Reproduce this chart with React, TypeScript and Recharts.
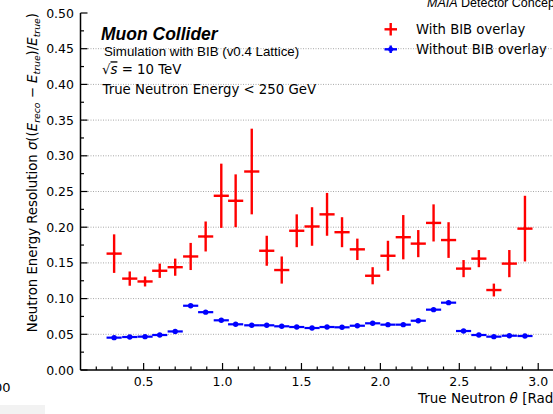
import React from "react";
import { ScatterChart, Scatter, XAxis, YAxis, ErrorBar, ReferenceLine } from "recharts";

// bin centres in theta [rad]
const thetaCenters = [
  0.313, 0.412, 0.509, 0.602, 0.7, 0.798, 0.893, 0.992, 1.083, 1.185, 1.28, 1.375, 1.47, 1.567,
  1.662, 1.757, 1.854, 1.951, 2.048, 2.145, 2.24, 2.337, 2.432, 2.527, 2.624, 2.719, 2.817, 2.916,
];
const thetaHalfWidth = 0.048;

const withBib = [
  0.163, 0.128, 0.124, 0.139, 0.144, 0.159, 0.187, 0.244, 0.237, 0.278, 0.167, 0.14, 0.195, 0.201,
  0.218, 0.193, 0.169, 0.132, 0.16, 0.186, 0.177, 0.206, 0.182, 0.142, 0.156, 0.112, 0.149, 0.198,
];
const withBibErr = [
  0.027, 0.01, 0.007, 0.01, 0.012, 0.019, 0.021, 0.045, 0.037, 0.06, 0.021, 0.019, 0.023, 0.027,
  0.03, 0.021, 0.015, 0.012, 0.021, 0.031, 0.019, 0.026, 0.025, 0.012, 0.012, 0.009, 0.019, 0.046,
];
const withoutBib = [
  0.0453, 0.0462, 0.0467, 0.049, 0.054, 0.09, 0.081, 0.0696, 0.064, 0.0626, 0.0626, 0.0612, 0.0602, 0.0588,
  0.0602, 0.0598, 0.062, 0.0654, 0.0635, 0.0635, 0.069, 0.0845, 0.0943, 0.0546, 0.049, 0.0467, 0.048, 0.0476,
];
const withoutBibErr = [
  0.0015, 0.0015, 0.0015, 0.0015, 0.0015, 0.002, 0.0018, 0.0015, 0.0015, 0.0015, 0.0015, 0.0015, 0.0015, 0.0015,
  0.0015, 0.0015, 0.0015, 0.0015, 0.0015, 0.0015, 0.0015, 0.002, 0.002, 0.0015, 0.0015, 0.0015, 0.0015, 0.0015,
];

const xMajorTicks = [0.5, 1.0, 1.5, 2.0, 2.5, 3.0];
const xTickLabels = ["0.5", "1.0", "1.5", "2.0", "2.5", "3.0"];
const xMinorTicks = [
  0.2, 0.3, 0.4, 0.6, 0.7, 0.8, 0.9, 1.1, 1.2, 1.3, 1.4, 1.6, 1.7, 1.8, 1.9, 2.1, 2.2, 2.3, 2.4,
  2.6, 2.7, 2.8, 2.9,
];
const yMajorTicks = [0, 0.05, 0.1, 0.15, 0.2, 0.25, 0.3, 0.35, 0.4, 0.45, 0.5];
const yTickLabels = ["0.00", "0.05", "0.10", "0.15", "0.20", "0.25", "0.30", "0.35", "0.40", "0.45", "0.50"];
const yMinorTicks = [0.025, 0.075, 0.125, 0.175, 0.225, 0.275, 0.325, 0.375, 0.425, 0.475];
const gridLevels = [0.05, 0.1, 0.15, 0.2, 0.25, 0.3, 0.35, 0.4, 0.45];

const xAllTicks = [...xMajorTicks, ...xMinorTicks].sort((a, b) => a - b);
const yAllTicks = [...yMajorTicks, ...yMinorTicks].sort((a, b) => a - b);

const withRows = thetaCenters.map((t, i) => ({ theta: t, res: withBib[i], yErr: withBibErr[i], xErr: thetaHalfWidth }));
const withoutRows = thetaCenters.map((t, i) => ({ theta: t, res: withoutBib[i], yErr: withoutBibErr[i], xErr: thetaHalfWidth }));

const RED = "#ff0000";
const BLUE = "#0000ff";
const DJV = "DejaVu Sans";
const ARIAL = "Liberation Sans";
const MAJOR = 7;
const MINOR = 3.5;

const majorIndex = (v: number, majors: number[]) => majors.findIndex((m) => Math.abs(m - v) < 1e-6);

function BottomTick(props: any) {
  const { x, y, payload } = props;
  const i = majorIndex(payload.value, xMajorTicks);
  const len = i >= 0 ? MAJOR : MINOR;
  return (
    <g>
      <line x1={x} x2={x} y1={y} y2={y - len} stroke="#000" strokeWidth={1.2} />
      {i >= 0 && (
        <text x={x} y={y + 16} textAnchor="middle" fontSize={12.5} fontFamily={DJV} fill="#000">
          {xTickLabels[i]}
        </text>
      )}
    </g>
  );
}

function TopTick(props: any) {
  const { x, y, payload } = props;
  const len = majorIndex(payload.value, xMajorTicks) >= 0 ? MAJOR : MINOR;
  return <line x1={x} x2={x} y1={y} y2={y + len} stroke="#000" strokeWidth={1.2} />;
}

function LeftTick(props: any) {
  const { x, y, payload } = props;
  const i = majorIndex(payload.value, yMajorTicks);
  const len = i >= 0 ? MAJOR : MINOR;
  return (
    <g>
      <line x1={x} x2={x + len} y1={y} y2={y} stroke="#000" strokeWidth={1.2} />
      {i >= 0 && (
        <text x={x - 6.5} y={y + 4.5} textAnchor="end" fontSize={12.5} fontFamily={DJV} fill="#000">
          {yTickLabels[i]}
        </text>
      )}
    </g>
  );
}

function RightTick(props: any) {
  const { x, y, payload } = props;
  const len = majorIndex(payload.value, yMajorTicks) >= 0 ? MAJOR : MINOR;
  return <line x1={x} x2={x - len} y1={y} y2={y} stroke="#000" strokeWidth={1.2} />;
}

const spine = { stroke: "#000", strokeWidth: 1.5 };

export default function App() {
  return (
    <div
      style={{
        position: "absolute",
        left: 0,
        top: 0,
        width: 553,
        height: 414,
        overflow: "hidden",
        background: "#fff",
      }}
    >
      <ScatterChart width={556} height={414} margin={{ top: 13, right: 2, bottom: 0, left: 0 }}>
        <XAxis
          xAxisId="b"
          type="number"
          dataKey="theta"
          domain={[0.1, 3.1]}
          allowDataOverflow
          ticks={xAllTicks}
          interval={0}
          tickSize={0}
          tickMargin={0}
          height={44}
          axisLine={spine}
          tickLine={false}
          tick={BottomTick}
        />
        <XAxis
          xAxisId="t"
          orientation="top"
          type="number"
          domain={[0.1, 3.1]}
          allowDataOverflow
          ticks={xAllTicks}
          interval={0}
          tickSize={0}
          tickMargin={0}
          height={0}
          axisLine={spine}
          tickLine={false}
          tick={TopTick}
        />
        <YAxis
          yAxisId="l"
          type="number"
          dataKey="res"
          domain={[0, 0.5]}
          allowDataOverflow
          ticks={yAllTicks}
          interval={0}
          tickSize={0}
          tickMargin={0}
          width={80.5}
          axisLine={spine}
          tickLine={false}
          tick={LeftTick}
        />
        <YAxis
          yAxisId="r"
          orientation="right"
          type="number"
          domain={[0, 0.5]}
          allowDataOverflow
          ticks={yAllTicks}
          interval={0}
          tickSize={0}
          tickMargin={0}
          width={0}
          axisLine={spine}
          tickLine={false}
          tick={RightTick}
        />
        {gridLevels.map((v) => (
          <ReferenceLine
            key={v}
            xAxisId="b"
            yAxisId="l"
            y={v}
            stroke="#a8a8a8"
            strokeWidth={1}
            strokeDasharray="1 1.5"
          />
        ))}
        <Scatter
          name="With BIB overlay"
          xAxisId="b"
          yAxisId="l"
          data={withRows}
          fill={RED}
          isAnimationActive={false}
          shape={(p: any) => <circle cx={p.cx} cy={p.cy} r={1.6} fill={RED} />}
        >
          <ErrorBar dataKey="yErr" direction="y" width={0} stroke={RED} strokeWidth={2.4} />
          <ErrorBar dataKey="xErr" direction="x" width={0} stroke={RED} strokeWidth={2.4} />
        </Scatter>
        <Scatter
          name="Without BIB overlay"
          xAxisId="b"
          yAxisId="l"
          data={withoutRows}
          fill={BLUE}
          isAnimationActive={false}
          shape={(p: any) => <circle cx={p.cx} cy={p.cy} r={2.7} fill={BLUE} />}
        >
          <ErrorBar dataKey="yErr" direction="y" width={0} stroke={BLUE} strokeWidth={2.2} />
          <ErrorBar dataKey="xErr" direction="x" width={0} stroke={BLUE} strokeWidth={2.2} />
        </Scatter>
      </ScatterChart>

      <svg
        width={553}
        height={414}
        style={{ position: "absolute", left: 0, top: 0, pointerEvents: "none" }}
      >
        {/* experiment label, cut off at the top of the image */}
        <text x={427} y={7} fontFamily={ARIAL} fontSize={12.5} fill="#000">
          <tspan fontStyle="italic">MAIA</tspan> Detector Concept
        </text>

        <text x={101} y={40} fontFamily={ARIAL} fontSize={17.5} fontWeight="bold" fontStyle="italic" fill="#000">
          Muon Collider
        </text>
        <text x={104} y={55.7} fontFamily={ARIAL} fontSize={13.3} fill="#000">
          Simulation with BIB (v0.4 Lattice)
        </text>
        <text x={102} y={74.3} fontFamily={DJV} fontSize={13.3} fill="#000">
          √<tspan fontStyle="italic" style={{ textDecoration: "overline" }}>s</tspan> = 10 TeV
        </text>
        <text x={102.5} y={94.3} fontFamily={DJV} fontSize={13.3} fill="#000">
          True Neutron Energy &lt; 250 GeV
        </text>

        {/* legend */}
        <g stroke={RED} strokeWidth={2.4}>
          <line x1={384.5} x2={397} y1={29.3} y2={29.3} />
          <line x1={390.7} x2={390.7} y1={23} y2={35.5} />
        </g>
        <g stroke={BLUE} strokeWidth={2.4}>
          <line x1={384.5} x2={397} y1={49.3} y2={49.3} />
          <line x1={390.7} x2={390.7} y1={45.5} y2={53} />
        </g>
        <circle cx={390.7} cy={49.3} r={2.5} fill={BLUE} />
        <text x={416} y={34.2} fontFamily={DJV} fontSize={13.2} fill="#000">
          With BIB overlay
        </text>
        <text x={416} y={54.2} fontFamily={DJV} fontSize={13.2} fill="#000">
          Without BIB overlay
        </text>

        {/* axis titles */}
        <text x={418} y={403.3} fontFamily={DJV} fontSize={13.5} fill="#000">
          True Neutron <tspan fontStyle="italic">θ</tspan> [Rad]
        </text>
        <text
          transform="translate(37,13) rotate(-90)"
          textAnchor="end"
          fontFamily={DJV}
          fontSize={13.3}
          fill="#000"
        >
          Neutron Energy Resolution <tspan fontStyle="italic">σ</tspan>((
          <tspan fontStyle="italic">E</tspan>
          <tspan fontStyle="italic" fontSize={9.3} dy={3}>reco</tspan>
          <tspan dy={-3}> − </tspan>
          <tspan fontStyle="italic">E</tspan>
          <tspan fontStyle="italic" fontSize={9.3} dy={3}>true</tspan>
          <tspan dy={-3}>)/</tspan>
          <tspan fontStyle="italic">E</tspan>
          <tspan fontStyle="italic" fontSize={9.3} dy={3}>true</tspan>
          <tspan dy={-3}>)</tspan>
        </text>

        {/* remnant of a neighbouring panel at the bottom left */}
        <text x={10.5} y={392} textAnchor="end" fontFamily={DJV} fontSize={13} fill="#000">
          00
        </text>
        <rect x={0} y={405} width={45} height={9} fill="#f2f2f2" />
      </svg>
    </div>
  );
}
